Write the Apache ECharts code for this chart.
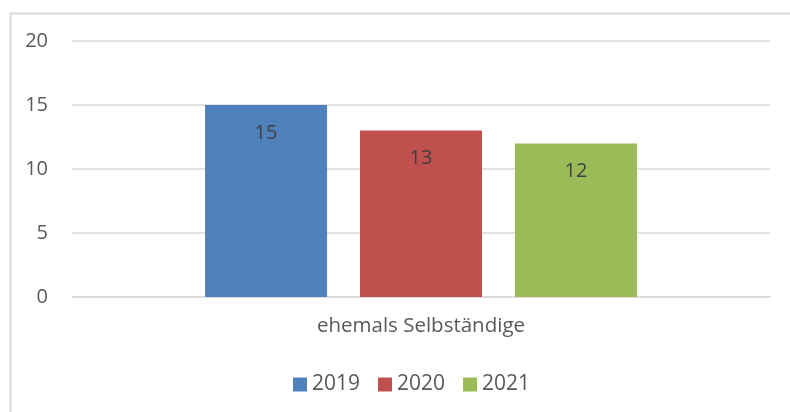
<!DOCTYPE html>
<html>
<head>
<meta charset="utf-8">
<script src="https://cdn.jsdelivr.net/npm/echarts@6/dist/echarts.min.js"></script>
<style>html,body{margin:0;padding:0;background:#fff}#c{width:790px;height:412px}</style>
</head>
<body>
<div id="c"></div>
<script>
const categories = ['ehemals Selbständige'];
const seriesNames = ['2019', '2020', '2021'];
const values2019 = [15];
const values2020 = [13];
const values2021 = [12];
const colors = ['#4F81BD', '#C0504D', '#9BBB59'];
const FONT = 'Open Sans';

const chart = echarts.init(document.getElementById('c'));
const allValues = [values2019, values2020, values2021];
chart.setOption({
  animation: false,
  textStyle: { fontFamily: FONT },
  graphic: [{
    type: 'rect', left: 8, top: 11, shape: { width: 800, height: 420 },
    style: { fill: 'none', stroke: '#D9D9D9', lineWidth: 2 }, silent: true
  }],
  grid: { left: 72, right: 20, top: 41, bottom: 115, containLabel: false },
  legend: {
    top: 369, left: 288, itemWidth: 14, itemHeight: 14, itemGap: 18,
    icon: 'rect',
    textStyle: { fontFamily: FONT, fontSize: 21, color: '#595959' },
    data: seriesNames
  },
  xAxis: {
    type: 'category', data: categories,
    axisLine: { show: true, lineStyle: { color: '#D9D9D9', width: 1.5 } },
    axisTick: { show: false },
    axisLabel: { fontFamily: FONT, fontSize: 20.5, color: '#595959', margin: 19 }
  },
  yAxis: {
    type: 'value', min: 0, max: 20, interval: 5,
    axisLine: { show: false }, axisTick: { show: false },
    splitLine: { lineStyle: { color: '#D9D9D9', width: 1.5 } },
    axisLabel: { fontFamily: FONT, fontSize: 20, color: '#595959', margin: 24 }
  },
  series: seriesNames.map((n, i) => ({
    name: n, type: 'bar', data: allValues[i], barWidth: 122, barGap: '27%',
    itemStyle: { color: colors[i] },
    label: { show: true, position: 'insideTop', distance: 18, fontFamily: FONT, fontSize: 20, color: '#404040' }
  }))
});
</script>
</body>
</html>
